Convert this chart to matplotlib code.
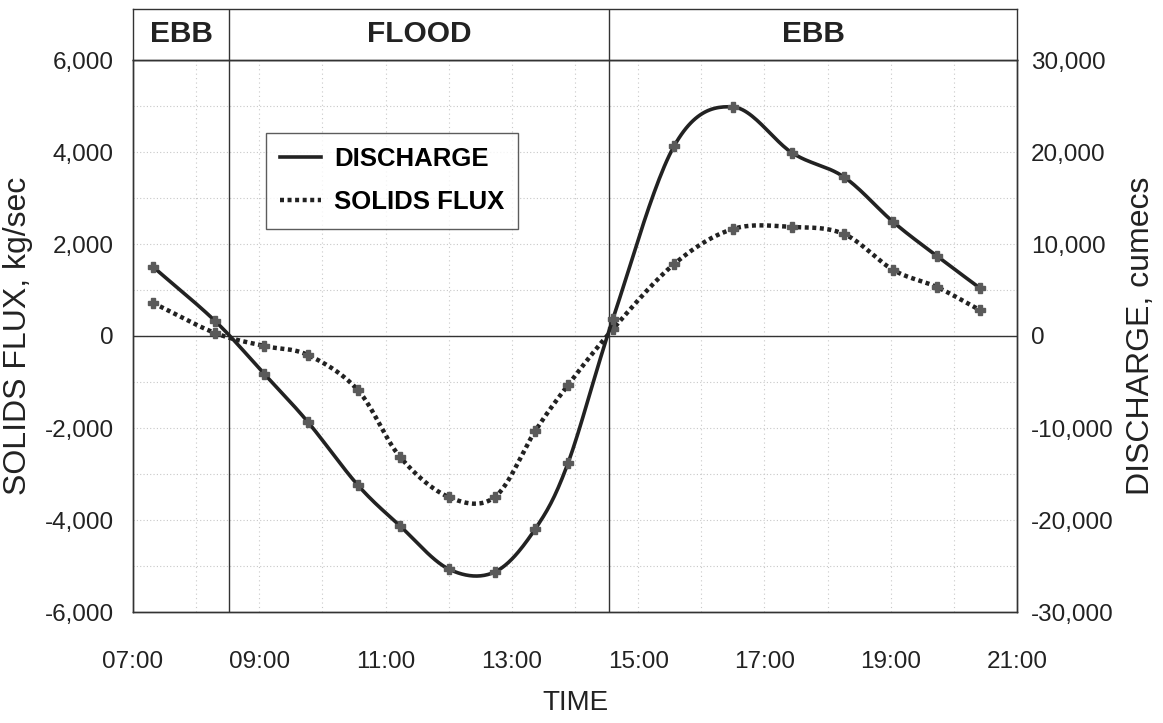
'''
tidal discharge and solids flux over one tide
'''
import numpy as np
import matplotlib.pyplot as plt

plt.rcParams['font.family'] = ['Liberation Sans', 'DejaVu Sans']

# sample times, decimal hours
hours = [7.32, 8.30, 9.08, 9.77, 10.56, 11.23, 12.00, 12.73, 13.37, 13.89,
         14.60, 15.57, 16.50, 17.44, 18.26, 19.04, 19.73, 20.41]
# discharge, cumecs (right axis)
discharge = [7500, 1630, -4130, -9350, -16200, -20650, -25330, -25650, -20980, -13800,
             1850, 20650, 24900, 19900, 17280, 12390, 8700, 5220]
# solids flux, kg/sec (left axis)
solids = [717, 65, -217, -413, -1174, -2630, -3500, -3500, -2065, -1065,
          150, 1565, 2326, 2370, 2217, 1435, 1065, 565]

# tide phase changes
slack_times = [8.52, 14.54]
phase_labels = ['EBB', 'FLOOD', 'EBB']

x_ticks = [7, 9, 11, 13, 15, 17, 19, 21]
x_ticklabels = ['07:00', '09:00', '11:00', '13:00', '15:00', '17:00', '19:00', '21:00']
left_ticks = [-6000, -4000, -2000, 0, 2000, 4000, 6000]
right_ticks = [-30000, -20000, -10000, 0, 10000, 20000, 30000]


def smoothed(x, y, n=25):
    # catmull-rom curve through the points, like the spreadsheet "smoothed line"
    x = np.asarray(x, float)
    y = np.asarray(y, float)
    px = np.concatenate([[2*x[0]-x[1]], x, [2*x[-1]-x[-2]]])
    py = np.concatenate([[2*y[0]-y[1]], y, [2*y[-1]-y[-2]]])
    t = np.linspace(0, 1, n, endpoint=False)
    xs, ys = [], []
    for i in range(1, len(px)-2):
        for p, out in ((px, xs), (py, ys)):
            p0, p1, p2, p3 = p[i-1], p[i], p[i+1], p[i+2]
            out.append(0.5*(2*p1 + (-p0+p2)*t + (2*p0-5*p1+4*p2-p3)*t**2
                            + (-p0+3*p1-3*p2+p3)*t**3))
    xs.append([x[-1]])
    ys.append([y[-1]])
    return np.concatenate(xs), np.concatenate(ys)


def fmt(v):
    return '{:,}'.format(int(v))


W, H = 1163, 723
fig = plt.figure(figsize=(W/100, H/100), dpi=100)
L, R, T, B = 133, 1017, 60, 612
ax = fig.add_axes([L/W, (H-B)/H, (R-L)/W, (B-T)/H])
hdr = fig.add_axes([L/W, (H-T)/H, (R-L)/W, (T-9)/H])

edge = '#333333'
grid = '#c8c8c8'
ink = '#222222'

ax.set_xlim(7, 21)
ax.set_ylim(-6000, 6000)
for v in range(-5000, 6000, 1000):
    ax.axhline(v, color=grid, lw=0.8, ls=(0, (1, 2)), zorder=0)
for h in range(8, 21):
    ax.axvline(h, color=grid, lw=0.8, ls=(0, (1, 3)), zorder=0)
ax.axhline(0, color=edge, lw=1.0, zorder=1)
for s in slack_times:
    ax.axvline(s, color=edge, lw=1.0, zorder=1)

ax2 = ax.twinx()
ax2.set_ylim(-30000, 30000)

sx, sy = smoothed(hours, solids)
ax.plot(sx, sy, color=ink, lw=3.2, ls=(0, (0.9, 0.8)), zorder=3)
ax.plot(hours, solids, ls='none', marker='P', ms=7, color='#5a5a5a', zorder=4)

dx, dy = smoothed(hours, discharge)
ax2.plot(dx, dy, color=ink, lw=2.6, zorder=3)
ax2.plot(hours, discharge, ls='none', marker='P', ms=7, color='#5a5a5a', zorder=4)

ax.set_xticks(x_ticks)
ax.set_xticklabels(x_ticklabels)
ax.set_yticks(left_ticks)
ax.set_yticklabels([fmt(v) for v in left_ticks])
ax2.set_yticks(right_ticks)
ax2.set_yticklabels([fmt(v) for v in right_ticks])
ax.tick_params(axis='x', length=0, pad=28, labelsize=17.5, colors=ink)
ax.tick_params(axis='y', length=0, pad=14, labelsize=17.5, colors=ink)
ax2.tick_params(axis='y', length=0, pad=10, labelsize=17.5, colors=ink)
for a in (ax, ax2):
    for sp in a.spines.values():
        sp.set_color(edge)
        sp.set_linewidth(1.0)

ax.set_xlabel('TIME', fontsize=20, color=ink, labelpad=12)
ax.set_ylabel('SOLIDS FLUX, kg/sec', fontsize=23, color=ink, labelpad=8)
ax2.set_ylabel('DISCHARGE, cumecs', fontsize=23, color=ink, labelpad=9)

# legend box
ax2.plot([], [], color=ink, lw=2.6, label='DISCHARGE')
ax2.plot([], [], color=ink, lw=3.2, ls=(0, (0.9, 0.8)), label='SOLIDS FLUX')
leg = ax2.legend(loc='upper left', bbox_to_anchor=((266-L)/(R-L), 1-(133-T)/(B-T)),
                 borderaxespad=0, frameon=True, fancybox=False, handlelength=1.6,
                 handletextpad=0.5, borderpad=0.55, labelspacing=0.75,
                 prop={'weight': 'bold', 'size': 18.5})
leg.get_frame().set_edgecolor(edge)
leg.get_frame().set_linewidth(1.0)

# tide phase header
hdr.set_xlim(7, 21)
hdr.set_ylim(0, 1)
hdr.set_xticks([])
hdr.set_yticks([])
for sp in hdr.spines.values():
    sp.set_color(edge)
    sp.set_linewidth(1.0)
edges = [7] + slack_times + [21]
for i, lab in enumerate(phase_labels):
    hdr.text((edges[i]+edges[i+1])/2, 0.5, lab, ha='center', va='center',
             fontsize=21.5, fontweight='bold', color=ink)
for s in slack_times:
    hdr.axvline(s, color=edge, lw=1.0)

fig.savefig('out.png', dpi=100)
